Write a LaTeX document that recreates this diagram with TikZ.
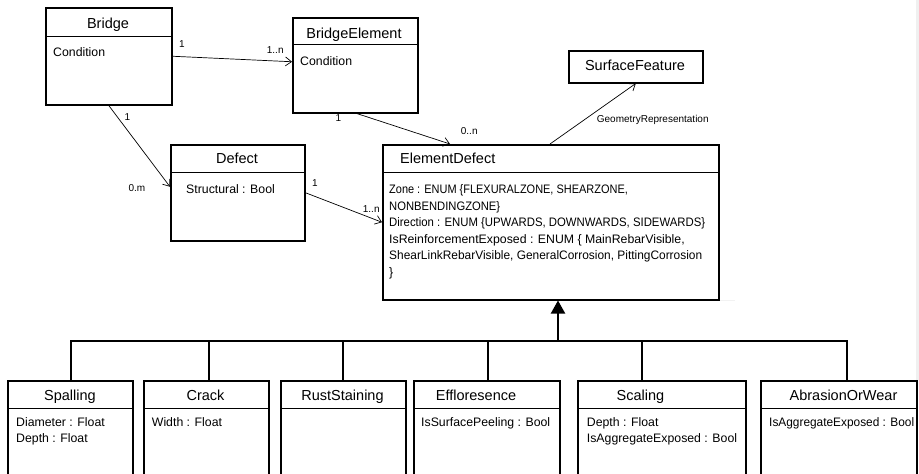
\documentclass[tikz,border=0pt]{standalone}
\usepackage{fontspec}
\setmainfont{Liberation Sans}
\usepackage{graphicx}
\usetikzlibrary{arrows.meta}
\tikzset{
  cls/.style={draw, line width=1.5pt, rectangle, anchor=north west, inner sep=0pt},
  divline/.style={line width=0.9pt},
  ttl/.style={anchor=base, inner sep=0pt, font=\fontsize{14.5}{17}\selectfont},
  attr/.style={anchor=base west, inner sep=0pt, font=\fontsize{12.3}{15}\selectfont},
  mult/.style={anchor=base west, inner sep=0pt, font=\fontsize{10}{12}\selectfont},
  assoc/.style={line width=0.7pt, -{Straight Barb[length=6pt,width=9pt]}},
  gen/.style={line width=2pt},
}
\newcommand\divl[2]{\draw[divline] ([yshift=-#2pt]#1.north west) -- ([yshift=-#2pt]#1.north east);}
\begin{document}
\begin{tikzpicture}[x=1pt,y=-1pt]
\clip (0,0) rectangle (919,474);
\fill[white] (0,0) rectangle (919,474);
\fill[black!6] (916,0) rectangle (919,380);
\fill[black!5] (383,300) rectangle (735,301);

% class boxes
\node[cls, minimum width=126pt, minimum height=97pt] (bridge) at (45,7) {};
\node[cls, minimum width=125pt, minimum height=95pt] (belem) at (292,17) {};
\node[cls, minimum width=134pt, minimum height=32pt] (sf) at (568,50) {};
\node[cls, minimum width=134pt, minimum height=96pt] (defect) at (170,144) {};
\node[cls, minimum width=336pt, minimum height=155pt] (eldef) at (382,144) {};
\node[cls, minimum width=125pt, minimum height=100pt] (spall) at (7,380) {};
\node[cls, minimum width=125pt, minimum height=100pt] (crack) at (143,380) {};
\node[cls, minimum width=125pt, minimum height=100pt] (rust) at (280,380) {};
\node[cls, minimum width=146pt, minimum height=100pt] (efflo) at (413,380) {};
\node[cls, minimum width=168pt, minimum height=100pt] (scal) at (577,380) {};
\node[cls, minimum width=156pt, minimum height=100pt] (abr) at (760,380) {};

% dividers
\divl{bridge}{29}
\divl{belem}{27}
\divl{defect}{28}
\divl{eldef}{28}
\divl{spall}{28}
\divl{crack}{28}
\divl{rust}{28}
\divl{efflo}{28}
\divl{scal}{28}
\divl{abr}{28}

% titles
\node[ttl] (tbridge) at (108,28.5) {Bridge};
\node[ttl] (tbelem) at (354,38.3) {BridgeElement};
\node[ttl] (tsf) at (635,70) {SurfaceFeature};
\node[ttl] (tdefect) at (237,163.3) {Defect};
\node[ttl, anchor=base west] (teldef) at (400,163.3) {ElementDefect};
\node[ttl] (tspall) at (70,400) {Spalling};
\node[ttl] (tcrack) at (205.5,400) {Crack};
\node[ttl] (trust) at (342.5,400) {RustStaining};
\node[ttl] (tefflo) at (476,400) {Effloresence};
\node[ttl] (tscal) at (640.5,400) {Scaling};
\node[ttl] (tabr) at (843.5,400) {AbrasionOrWear};

% attributes
\node[attr] (abridge) at (53,56.5) {Condition};
\node[attr] (abelem) at (300,65) {Condition};
\node[attr] (adefect) at (186,193.5) {Structural : Bool};
\node[attr] (ae1) at (389,193.5) {\resizebox{238.7pt}{\height}{Zone : ENUM \{FLEXURALZONE, SHEARZONE,}};
\node[attr] (ae2) at (389,210) {\resizebox{111pt}{\height}{NONBENDINGZONE\}}};
\node[attr] (ae3) at (389,226.5) {\resizebox{316pt}{\height}{Direction : ENUM \{UPWARDS, DOWNWARDS, SIDEWARDS\}}};
\node[attr] (ae4) at (389,243) {IsReinforcementExposed : ENUM \{ MainRebarVisible,};
\node[attr] (ae5) at (389,259.5) {\resizebox{313pt}{\height}{ShearLinkRebarVisible, GeneralCorrosion, PittingCorrosion}};
\node[attr] (ae6) at (389,276) {\}};
\node[attr] (as1) at (16,426) {Diameter : Float};
\node[attr] (as2) at (16,442) {Depth : Float};
\node[attr] (ac1) at (151.7,426) {Width : Float};
\node[attr] (af1) at (421,426) {IsSurfacePeeling : Bool};
\node[attr] (asc1) at (586.7,426) {Depth : Float};
\node[attr] (asc2) at (586.7,442) {IsAggregateExposed : Bool};
\node[attr] (aab1) at (769,426) {\resizebox{145pt}{\height}{IsAggregateExposed : Bool}};

% associations
\draw[assoc] (bridge.east) -- ([yshift=3.5pt]belem.west);
\draw[assoc] (bridge.south) -- ([yshift=6pt]defect.west);
\draw[assoc] ([xshift=1.5pt]belem.south) -- ([xshift=68pt]eldef.north west);
\draw[assoc] (defect.east) -- (eldef.west);
\draw[assoc] ([xshift=168pt]eldef.north west) -- (sf.south);

% multiplicities
\node[mult] (m1) at (179,47) {1};
\node[mult] (m2) at (266.7,53) {1..n};
\node[mult] (m3) at (124.5,120) {1};
\node[mult] (m4) at (128.3,191) {0.m};
\node[mult] (m5) at (335.5,121.7) {1};
\node[mult] (m6) at (460.7,134.7) {0..n};
\node[mult] (m7) at (312,186.7) {1};
\node[mult] (m8) at (362.7,212.7) {1..n};
\node[mult] (m9) at (596.7,122.3) {GeometryRepresentation};

% generalization
\coordinate (gj) at (558,341);
\draw[gen] ([xshift=0.5pt]spall.north) |- (gj) -| ([xshift=8pt]abr.north);
\draw[gen] ([xshift=2.5pt]crack.north) -- ([xshift=2.5pt]crack.north |- gj);
\draw[gen] ([xshift=-0.5pt]rust.north) -- ([xshift=-0.5pt]rust.north |- gj);
\draw[gen] ([xshift=1pt]efflo.north) -- ([xshift=1pt]efflo.north |- gj);
\draw[gen] ([xshift=-20pt]scal.north) -- ([xshift=-20pt]scal.north |- gj);
\draw[gen, -{Triangle[length=13pt,width=14pt]}] (gj) -- ([xshift=176pt]eldef.south west);
\end{tikzpicture}
\end{document}
